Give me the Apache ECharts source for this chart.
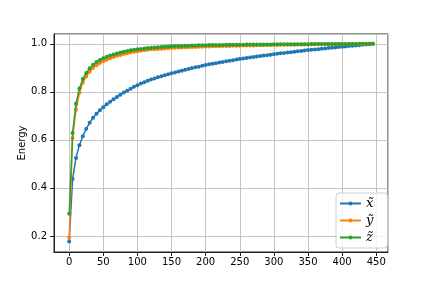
<!DOCTYPE html>
<html>
<head>
<meta charset="utf-8">
<script src="https://cdn.jsdelivr.net/npm/echarts@6/dist/echarts.min.js"></script>
<style>html,body{margin:0;padding:0;background:#fff}#c{width:432px;height:288px}</style>
</head>
<body>
<div id="c"></div>
<script>
var xs = [0,5,10,15,20,25,30,35,40,45,50,55,60,65,70,75,80,85,90,95,100,105,110,115,120,125,130,135,140,145,150,155,160,165,170,175,180,185,190,195,200,205,210,215,220,225,230,235,240,245,250,255,260,265,270,275,280,285,290,295,300,305,310,315,320,325,330,335,340,345,350,355,360,365,370,375,380,385,390,395,400,405,410,415,420,425,430,435,440,445];

var xVals = [0.177,0.437,0.525,0.578,0.615,0.646,0.671,0.692,0.709,0.723,0.736,0.748,0.759,0.769,0.779,0.788,0.797,0.805,0.813,0.821,0.828,0.8345,0.8405,0.846,0.851,0.856,0.861,0.865,0.869,0.873,0.877,0.881,0.885,0.888,0.892,0.895,0.899,0.902,0.905,0.909,0.912,0.9145,0.917,0.9195,0.922,0.9245,0.927,0.9295,0.932,0.9345,0.937,0.939,0.941,0.943,0.945,0.947,0.949,0.951,0.953,0.955,0.957,0.9587,0.9604,0.962,0.9638,0.9655,0.967,0.969,0.9705,0.972,0.974,0.9754,0.9768,0.978,0.9796,0.981,0.9824,0.9838,0.985,0.9866,0.988,0.9893,0.9906,0.992,0.9933,0.9946,0.996,0.9973,0.9987,1.0];

var yVals = [0.192,0.608,0.726,0.796,0.838,0.864,0.884,0.899,0.911,0.920,0.928,0.934,0.940,0.945,0.950,0.954,0.958,0.961,0.964,0.967,0.969,0.971,0.973,0.975,0.977,0.978,0.979,0.980,0.981,0.982,0.983,0.9837,0.9844,0.985,0.9856,0.9862,0.9868,0.9873,0.9878,0.9883,0.9888,0.9892,0.9896,0.990,0.9904,0.9908,0.9912,0.9915,0.9918,0.9921,0.9924,0.9927,0.993,0.9933,0.9936,0.9939,0.9942,0.9945,0.9948,0.9951,0.9954,0.9956,0.9958,0.996,0.9962,0.9964,0.9966,0.9968,0.997,0.9972,0.9974,0.9976,0.9978,0.998,0.9982,0.9984,0.9986,0.9987,0.9988,0.9989,0.999,0.9991,0.9992,0.9994,0.9995,0.9996,0.9997,0.9998,0.9999,1.0];

var zVals = [0.292,0.629,0.751,0.814,0.854,0.879,0.898,0.913,0.924,0.933,0.940,0.946,0.951,0.956,0.960,0.964,0.967,0.970,0.973,0.975,0.977,0.979,0.981,0.983,0.984,0.985,0.986,0.987,0.988,0.989,0.990,0.9905,0.991,0.9915,0.992,0.9925,0.993,0.9935,0.994,0.9942,0.9945,0.9948,0.995,0.9952,0.9954,0.9956,0.9958,0.996,0.9962,0.9964,0.9966,0.9967,0.9968,0.997,0.9971,0.9972,0.9974,0.9975,0.9976,0.9977,0.9978,0.9979,0.998,0.9981,0.9982,0.9983,0.9984,0.9985,0.9986,0.9987,0.9988,0.9989,0.999,0.9991,0.9992,0.9992,0.9993,0.9994,0.9995,0.9995,0.9996,0.9997,0.9997,0.9998,0.9998,0.9999,0.9999,1.0,1.0,1.0];

var seriesNames = ['x\u0303', 'y\u0303', 'z\u0303'];
var seriesColors = ['#1f77b4', '#ff7f0e', '#2ca02c'];
var yTitle = 'Energy';

function pairs(v) { return xs.map(function (x, i) { return [x, v[i]]; }); }

var chart = echarts.init(document.getElementById('c'), null, {renderer: 'canvas'});
var lab = {color: '#000', fontFamily: 'DejaVu Sans', fontSize: 10};
chart.setOption({
  animation: false,
  backgroundColor: '#fff',
  grid: {left: 54, right: 44, top: 34, bottom: 36, show: true, borderColor: '#222', borderWidth: 1, backgroundColor: 'transparent'},
  xAxis: {
    type: 'value', min: -22.25, max: 467.25, splitNumber: 10,
    axisLine: {show: true, onZero: false, lineStyle: {color: '#222', width: 1}},
    axisTick: {show: true, inside: false, length: 4, lineStyle: {color: '#222'}},
    axisLabel: Object.assign({margin: 5, showMinLabel: false, showMaxLabel: false}, lab),
    splitLine: {show: true, lineStyle: {color: '#c4c4c4', width: 1}}
  },
  yAxis: {
    type: 'value', min: 0.133, max: 1.041, splitNumber: 5,
    name: yTitle, nameLocation: 'middle', nameGap: 27, nameRotate: 90, nameMoveOverlap: false,
    nameTextStyle: {color: '#000', fontFamily: 'DejaVu Sans', fontSize: 10},
    axisLine: {show: true, onZero: false, lineStyle: {color: '#222', width: 1}},
    axisTick: {show: true, inside: false, length: 4, lineStyle: {color: '#222'}},
    axisLabel: Object.assign({margin: 7, showMinLabel: false, showMaxLabel: false, formatter: function (v) { return v.toFixed(1); }}, lab),
    splitLine: {show: true, lineStyle: {color: '#c4c4c4', width: 1}}
  },
  legend: {
    orient: 'vertical', left: 336, top: 193,
    padding: [4, 14, 4, 3], itemGap: 4, itemWidth: 21, itemHeight: 5,
    backgroundColor: 'rgba(255,255,255,0.8)', borderColor: '#d0d0d0', borderWidth: 1, borderRadius: 3,
    textStyle: {fontFamily: 'DejaVu Serif', fontStyle: 'italic', fontSize: 13, color: '#000'},
    data: seriesNames
  },
  series: [0, 1, 2].map(function (k) {
    return {
      name: seriesNames[k], type: 'line',
      data: pairs([xVals, yVals, zVals][k]),
      color: seriesColors[k],
      symbol: 'circle', symbolSize: 4, showSymbol: true,
      lineStyle: {width: 1.5, color: seriesColors[k]},
      itemStyle: {color: seriesColors[k]},
      z: 2 + k
    };
  })
});
</script>
</body>
</html>
